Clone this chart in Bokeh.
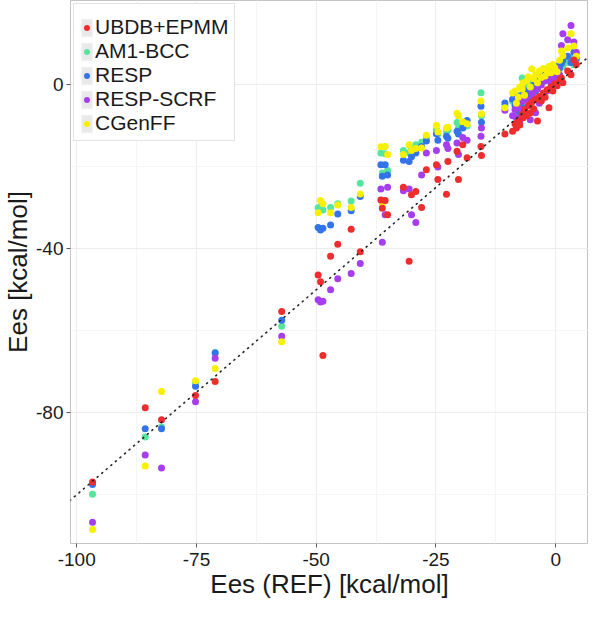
from bokeh.plotting import figure
from bokeh.models import Range1d, FixedTicker, Legend, LegendItem, Slope, ColumnDataSource
from bokeh.embed import file_html
from bokeh.resources import INLINE

# reference energies (x) and the five methods (y), kcal/mol
ref_x = [-96.7, -85.7, -82.3, -75.2, -71.1, -57.2,
         -49.6, -49.1, -48.6, -47.0, -45.5, -42.7, -40.8,
         -36.5, -36.2, -35.6, -35.1, -31.8, -30.6, -30.1, -29.2, -28.0, -27.0,
         -24.9, -24.6, -22.8, -22.5, -20.6, -20.3, -19.4, -18.5, -15.6, -15.5, -10.6,
         -9.0, -8.5, -8.2, -7.8, -7.5, -7.0, -6.8, -6.5, -6.0, -5.7, -5.3, -5.0,
         -4.6, -4.2, -3.8, -3.4, -3.0, -2.6, -2.2, -1.8, -1.4, -1.0, -0.6, -0.2,
         0.3, 0.8, 1.2, 1.5, 2.5, 3.2, 3.8, 4.3]
ubdb = [-96.9, -78.8, -81.7, -75.8, -72.4, -55.3,
        -46.4, -48.0, -66.0, -41.8, -38.9, -35.2, -40.7,
        -28.1, -30.1, -28.2, -31.7, -25.0, -43.0, -26.8, -26.0, -29.9, -20.7,
        -19.5, -23.1, -26.7, -18.7, -16.2, -23.1, -14.6, -17.8, -15.0, -17.2, -12.0,
        -11.3, -9.5, -10.5, -8.8, -9.8, -7.2, -8.0, -6.0, -7.5, -5.0, -6.8, -4.2,
        -5.8, -3.5, -8.8, -2.8, -3.9, -2.0, -3.0, -1.2, -5.6, -0.5, -1.5, 0.3,
        -0.2, 1.0, 1.7, 0.5, 3.4, 2.5, 6.1, 5.0]
am1bcc = [-99.9, -85.9, -83.5, -72.6, -65.3, -58.9,
          -30.0, -29.7, -30.5, -29.9, -29.0, -28.3, -24.0,
          -16.6, -21.5, -16.8, -20.9, -16.0, -16.6, -15.5, -14.6, -14.0, -13.0,
          -11.0, -12.0, -11.5, -11.0, -9.2, -10.5, -9.5, -10.0, -1.9, -7.5, -5.0,
          -4.0, -3.0, -6.0, -2.5, -4.5, 1.7, -3.5, -1.0, -2.0, -0.5, 0.5, -1.5,
          1.0, 0.0, 2.0, 1.5, 2.5, 0.8, 3.0, 2.2, 3.5, 4.0, 2.8, 4.5,
          3.8, 5.0, 6.0, 4.5, 5.5, 6.5, 4.9, 6.0]
resp = [-97.5, -83.9, -83.9, -73.5, -65.4, -57.4,
        -34.8, -35.4, -35.0, -34.2, -31.5, -30.7, -27.2,
        -19.5, -22.3, -19.5, -22.0, -18.4, -18.7, -17.5, -16.6, -15.0, -13.7,
        -11.9, -13.5, -12.5, -13.0, -11.3, -12.0, -10.5, -8.7, -5.2, -9.1, -4.4,
        -3.5, -5.0, -3.0, -6.5, -4.0, -2.5, -5.5, -3.5, -1.5, -3.0, -1.0, -2.0,
        0.0, -1.5, 1.0, 0.5, 2.0, 1.5, 2.5, 3.0, 1.8, 3.5, 4.0, 2.8,
        4.5, 4.0, 5.2, 6.0, 7.0, 5.5, 8.0, 6.5]
resp_scrf = [-106.7, -90.3, -93.5, -77.3, -66.7, -61.3,
             -52.4, -53.0, -52.8, -50.0, -47.3, -46.0, -43.6,
             -25.4, -38.4, -31.7, -25.0, -25.8, -25.4, -31.7, -33.6, -22.0, -16.6,
             -16.0, -20.0, -14.6, -15.5, -14.2, -17.0, -12.8, -13.5, -12.5, -10.5, -6.2,
             -7.5, -6.0, -8.0, -5.5, -9.0, -4.0, -6.5, -7.0, -3.5, -5.0, -8.5, -2.0,
             -3.0, -6.8, -1.0, -4.5, 0.0, -2.5, 1.0, -1.5, 2.0, 0.5, 3.0, 1.5,
             4.0, 2.5, 9.6, 12.5, 11.0, 14.5, 10.5, 8.0]
cgenff = [-108.5, -93.0, -74.8, -72.2, -69.2, -62.7,
          -31.2, -28.2, -29.0, -31.2, -29.3, -29.9, -26.6,
          -15.1, -29.3, -15.0, -17.0, -17.0, -14.6, -16.0, -15.5, -15.4, -12.3,
          -9.9, -11.5, -10.5, -10.3, -6.9, -7.5, -9.0, -9.5, -3.9, -7.1, -5.6,
          -2.0, -1.5, -4.5, -3.0, -0.5, -1.0, 0.5, -2.5, 1.0, 2.0, -0.5, 3.9,
          1.5, 2.5, 0.5, 3.4, 1.8, 4.0, 2.2, 3.5, 4.5, 3.0, 5.0, 4.2,
          3.2, 6.0, 8.3, 7.1, 9.0, 12.5, 9.5, 7.0]

labels = ["UBDB+EPMM", "AM1-BCC", "RESP", "RESP-SCRF", "CGenFF"]
colors = ["#ee2e2e", "#55e59c", "#3474ea", "#a63ef0", "#f7f000"]
series = [ubdb, am1bcc, resp, resp_scrf, cgenff]

x_major = [-100, -75, -50, -25, 0]
x_minor = [-87.5, -62.5, -37.5, -12.5]
y_major = [-80, -40, 0]
y_minor = [-100, -60, -20]

FONT = "Liberation Sans"

p = figure(width=588, height=601, output_backend="svg", toolbar_location=None,
           x_range=Range1d(-101.3, 6.85), y_range=Range1d(-111.9, 20.6),
           min_border_left=0, min_border_right=0, min_border_top=0, min_border_bottom=0)
p.background_fill_color = "white"
p.border_fill_color = "white"
p.outline_line_color = "#c4c4c4"
p.outline_line_width = 1

p.xaxis.ticker = FixedTicker(ticks=x_major, minor_ticks=x_minor)
p.yaxis.ticker = FixedTicker(ticks=y_major, minor_ticks=y_minor)
p.xaxis.major_label_overrides = {v: str(v) for v in x_major}
p.yaxis.major_label_overrides = {v: str(v) for v in y_major}
for ax in (p.xaxis, p.yaxis):
    ax.axis_line_color = None
    ax.major_tick_line_color = "#555555"
    ax.major_tick_out = 4
    ax.major_tick_in = 0
    ax.minor_tick_line_color = None
    ax.major_label_text_font = FONT
    ax.major_label_text_font_size = "19px"
    ax.major_label_text_color = "#1a1a1a"
    ax.axis_label_text_font = FONT
    ax.axis_label_text_font_size = "26px"
    ax.axis_label_text_font_style = "normal"
    ax.axis_label_text_color = "#1a1a1a"
    ax.axis_label_standoff = 0
p.xaxis.major_label_standoff = 5
p.yaxis.major_label_standoff = 3
p.xaxis.axis_label = "Ees (REF) [kcal/mol]"
p.yaxis.axis_label = "Ees [kcal/mol]"

p.xgrid.grid_line_color = "#ececec"
p.ygrid.grid_line_color = "#ececec"
p.xgrid.minor_grid_line_color = "#f5f5f5"
p.ygrid.minor_grid_line_color = "#f5f5f5"

p.add_layout(Slope(gradient=1, y_intercept=0, line_color="#222222",
                   line_width=1.6, line_dash="1 5", line_cap="round"))

renderers = {}
draw_order = [1, 2, 3, 4, 0]
for i in draw_order:
    src = ColumnDataSource(dict(x=ref_x, y=series[i]))
    renderers[i] = p.scatter("x", "y", source=src, size=7, fill_color=colors[i],
                             line_color=None, marker="circle")

nan = float("nan")
items = []
for i, lab in enumerate(labels):
    bg = p.rect(x=[nan], y=[nan], width=1, height=1, fill_color="#e9e9e9",
                line_color="white", line_width=1)
    items.append(LegendItem(label=lab, renderers=[bg, renderers[i]]))

legend = Legend(items=items, location="top_left", orientation="vertical")
legend.label_text_font = FONT
legend.label_text_font_size = "21px"
legend.label_text_color = "#1a1a1a"
legend.label_standoff = 1
legend.label_height = 23
legend.glyph_width = 15
legend.glyph_height = 23
legend.spacing = 0
legend.padding = 5
legend.margin = 3
legend.title = " "
legend.title_text_font_size = "6px"
legend.title_standoff = 0
legend.border_line_color = "#c8c8c8"
legend.border_line_width = 1
legend.background_fill_color = "white"
legend.background_fill_alpha = 1
p.add_layout(legend)

open("out.html", "w").write(file_html(p, INLINE))
